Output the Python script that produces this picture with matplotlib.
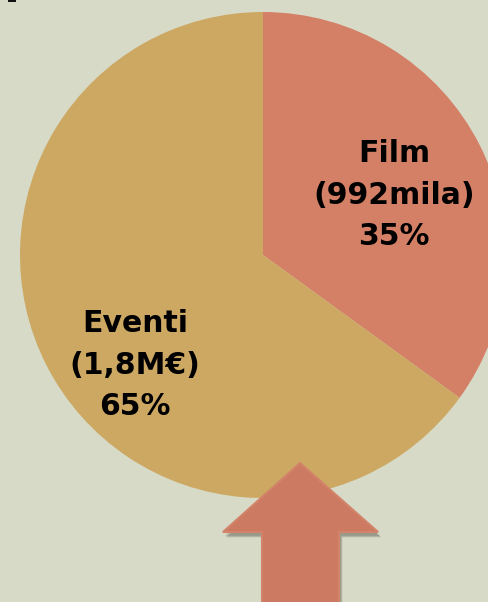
import matplotlib.pyplot as plt
from matplotlib.patches import Polygon, Rectangle

# dati del grafico
categorie = ["Film", "Eventi"]
importi = ["992mila", "1,8M€"]
quote = [35, 65]
colori = ["#D48066", "#CDA862"]

W, H = 488, 602
fig = plt.figure(figsize=(W / 100, H / 100), dpi=100)
fig.patch.set_facecolor("#D7DAC7")
ax = fig.add_axes([0, 0, 1, 1])
ax.set_facecolor("#D7DAC7")

# torta: centro e raggio in pixel (y verso l'alto)
cx, cy, r = 263, H - 255, 243
ax.pie(quote, colors=colori, startangle=90, counterclock=False,
       center=(cx, cy), radius=r, wedgeprops=dict(linewidth=0))

ax.set_xlim(0, W)
ax.set_ylim(0, H)
ax.set_aspect("auto")
ax.axis("off")

# etichette
pos = [(394, H - 195), (135, H - 365)]
for (x, y), cat, imp, q in zip(pos, categorie, importi, quote):
    ax.text(x, y, f"{cat}\n({imp})\n{q}%", ha="center", va="center",
            fontsize=21.5, fontweight="bold", linespacing=1.55,
            family=["DejaVu Sans"], color="#000000")

# freccia verso l'alto con ombra
freccia = [(300, 463), (378, 532), (339, 532), (339, 610),
           (262, 610), (262, 532), (223, 532)]
for i, a in enumerate([0.10, 0.10, 0.12, 0.14]):
    d = 1 + i
    ombra = [(x + 1 + d * 0.6, H - (y + 3 + d * 0.6)) for x, y in freccia]
    ax.add_patch(Polygon(ombra, closed=True, facecolor="#3a3a30",
                         edgecolor="none", alpha=a))
ax.add_patch(Polygon([(x, H - y) for x, y in freccia], closed=True,
                     facecolor="#CC7A62", edgecolor="#D3836A", linewidth=1.5))

# piccolo segno in alto a sinistra
ax.add_patch(Rectangle((8, H - 2), 8, 2, facecolor="#111111", edgecolor="none"))

fig.savefig("out.png", dpi=100, facecolor=fig.get_facecolor())
